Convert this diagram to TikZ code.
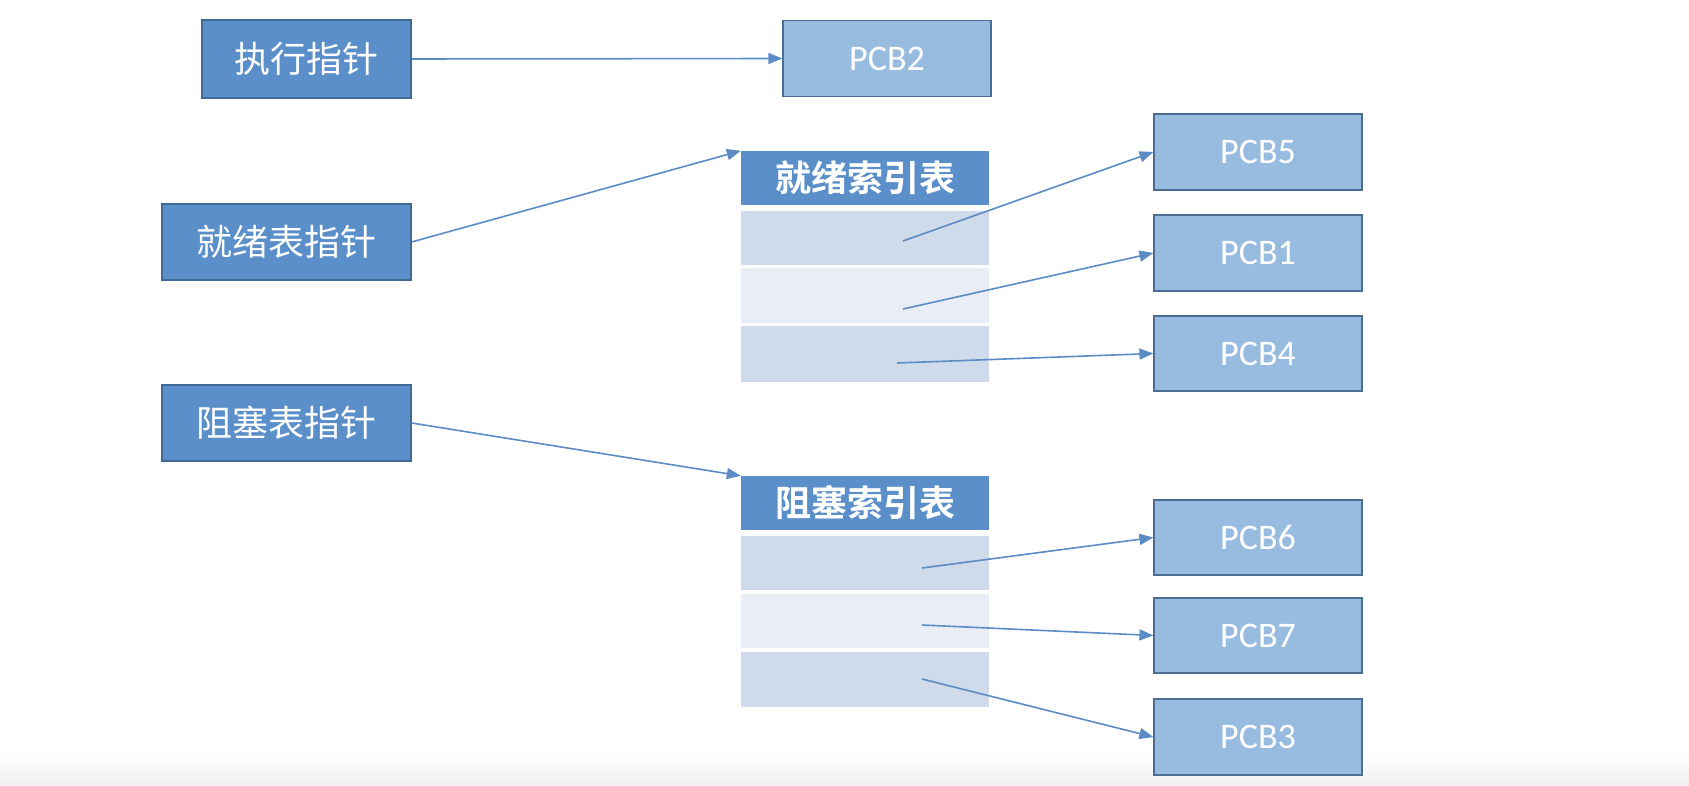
\documentclass[tikz,border=0pt]{standalone}
\usepackage{fontspec}
\newfontfamily\cjk{Noto Sans CJK SC}
\newfontfamily\cjkb{Noto Sans CJK SC Bold}
\newfontfamily\latinf{Carlito}
\usetikzlibrary{arrows.meta}
\definecolor{darkblue}{HTML}{5A8FCA}
\definecolor{darkedge}{HTML}{3F6A96}
\definecolor{pcbfill}{HTML}{98BBE0}
\definecolor{pcbedge}{HTML}{4A6E94}
\definecolor{rowa}{HTML}{CFDAEB}
\definecolor{rowb}{HTML}{E8EDF6}
\definecolor{arrowc}{HTML}{5B8CC4}
\tikzset{
  ptr/.style={rectangle, fill=darkblue, draw=darkedge, line width=1.2pt, text=white,
    font=\cjk\fontsize{36}{36}\selectfont, inner sep=0pt},
  pcb/.style={rectangle, fill=pcbfill, draw=pcbedge, line width=1.2pt, text=white,
    minimum width=208pt, minimum height=76pt, inner sep=0pt,
    font=\latinf\fontsize{36}{36}\selectfont},
  hdr/.style={rectangle, fill=darkblue, text=white, minimum width=248pt, minimum height=54pt,
    inner sep=0pt, font=\cjkb\fontsize{36}{36}\selectfont},
  rowbox/.style={rectangle, minimum width=248pt, inner sep=0pt},
  conn/.style={draw=arrowc, line width=1.6pt, -{Triangle[length=14pt,width=11pt]}}
}
\begin{document}
\begin{tikzpicture}[x=1pt,y=-1pt]
\useasboundingbox (0,0) rectangle (1689,786);
\fill[white] (0,0) rectangle (1689,786);
\shade[top color=white, bottom color=gray!12] (0,754) rectangle (1689,786);

% left pointer boxes
\node[ptr, minimum width=209pt, minimum height=78pt] (exec) at (306.5,59) {执行指针};
\node[ptr, minimum width=249pt, minimum height=76pt] (rp) at (286.5,242) {就绪表指针};
\node[ptr, minimum width=249pt, minimum height=76pt] (bp) at (286.5,423) {阻塞表指针};

% PCB2
\node[pcb] (pcb2) at (887,58.5) {PCB2};

% ready index table
\node[hdr] (rh) at (865,178) {就绪索引表};
\node[rowbox, fill=rowa, minimum height=54pt] (r1) at (865,238) {};
\node[rowbox, fill=rowb, minimum height=55pt] (r2) at (865,295.5) {};
\node[rowbox, fill=rowa, minimum height=56pt] (r3) at (865,354) {};

% blocked index table
\node[hdr] (bh) at (865,503) {阻塞索引表};
\node[rowbox, fill=rowa, minimum height=54pt] (b1) at (865,563) {};
\node[rowbox, fill=rowb, minimum height=54pt] (b2) at (865,621) {};
\node[rowbox, fill=rowa, minimum height=55pt] (b3) at (865,679.5) {};

% PCB boxes
\node[pcb] (pcb5) at (1258,152) {PCB5};
\node[pcb] (pcb1) at (1258,253) {PCB1};
\node[pcb, minimum height=75pt] (pcb4) at (1258,353.5) {PCB4};
\node[pcb, minimum height=75pt] (pcb6) at (1258,537.5) {PCB6};
\node[pcb, minimum height=75pt] (pcb7) at (1258,635.5) {PCB7};
\node[pcb] (pcb3) at (1258,737) {PCB3};

% start points of row pointers
\coordinate (s1) at (903,241);
\coordinate (s2) at (903,309);
\coordinate (s3) at (897,363);
\coordinate (t1) at (922,568);
\coordinate (t2) at (922,625);
\coordinate (t3) at (922,679);

% connectors
\draw[conn] (exec.east) -- (pcb2.west);
\draw[conn] (rp.east) -- (rh.north west);
\draw[conn] (bp.east) -- (bh.north west);
\draw[conn] (s1) -- (pcb5.west);
\draw[conn] (s2) -- (pcb1.west);
\draw[conn] (s3) -- (pcb4.west);
\draw[conn] (t1) -- (pcb6.west);
\draw[conn] (t2) -- (pcb7.west);
\draw[conn] (t3) -- (pcb3.west);
\end{tikzpicture}
\end{document}
